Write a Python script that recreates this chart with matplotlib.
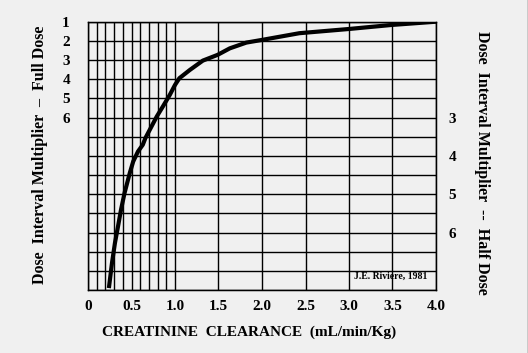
import matplotlib
matplotlib.use('Agg')
import matplotlib.pyplot as plt

plt.rcParams['font.family'] = ['Liberation Serif', 'DejaVu Serif']
plt.rcParams['font.weight'] = 'bold'

# curve (creatinine clearance vs full-dose interval multiplier)
clearance = [0.24, 0.276, 0.31, 0.345, 0.38, 0.42, 0.48, 0.52, 0.575, 0.63, 0.66,
             0.71, 0.79, 0.86, 0.94, 1.0, 1.05, 1.17, 1.32, 1.49, 1.63, 1.82, 2.0,
             2.43, 3.0, 3.49, 4.0]
multiplier = [14.9, 13.58, 12.54, 11.68, 10.8, 9.94, 8.9, 8.29, 7.77, 7.42, 7.07,
              6.64, 5.95, 5.43, 4.82, 4.3, 3.95, 3.52, 3.03, 2.73, 2.39, 2.09, 1.95,
              1.6, 1.38, 1.17, 1.0]

x_labels = ['0', '0.5', '1.0', '1.5', '2.0', '2.5', '3.0', '3.5', '4.0']
x_ticks = [0, 0.5, 1.0, 1.5, 2.0, 2.5, 3.0, 3.5, 4.0]
x_fine = [0.1, 0.2, 0.3, 0.4, 0.6, 0.7, 0.8, 0.9]
full_ticks = [1, 2, 3, 4, 5, 6]
half_ticks = [6, 8, 10, 12]
half_labels = ['3', '4', '5', '6']
bg = '#f0f0f0'

fig = plt.figure(figsize=(5.28, 3.53), dpi=100, facecolor=bg)
ax = fig.add_axes([88 / 528, 1 - 290 / 353, 348 / 528, 268.3 / 353])
ax.set_facecolor(bg)

ax.set_xlim(0, 4.0)
ax.set_ylim(15, 1)
ax.set_xticks(x_ticks)
ax.set_xticklabels(x_labels, fontsize=11, fontweight='bold')
ax.set_xticks(x_fine, minor=True)
ax.set_yticks(range(1, 16), minor=True)
ax.set_yticks(full_ticks)
ax.set_yticklabels([str(t) for t in full_ticks], fontsize=11, fontweight='bold')
ax.tick_params(which='both', length=0)
ax.tick_params(axis='x', pad=7)
ax.tick_params(axis='y', pad=13)
ax.grid(which='both', color='black', lw=1.0)
for s in ax.spines.values():
    s.set_color('black')
    s.set_linewidth(1.0)

ax.plot(clearance, multiplier, color='black', lw=3.0, solid_capstyle='butt', zorder=3)

ax2 = ax.twinx()
ax2.set_ylim(15, 1)
ax2.set_yticks(half_ticks)
ax2.set_yticklabels(half_labels, fontsize=11, fontweight='bold')
ax2.tick_params(length=0, pad=9)

ax.text(3.9, 14.3, 'J.E. Riviere, 1981', fontsize=7, fontweight='bold',
        ha='right', va='center', zorder=4)

fig.text(40 / 528, 1 - 155 / 353, 'Dose  Interval Multiplier  \u2013  Full Dose',
         rotation=90, ha='center', va='center', fontsize=11.5, fontweight='bold')
fig.text(482 / 528, 1 - 163 / 353, 'Dose  Interval Multiplier  --  Half Dose',
         rotation=270, ha='center', va='center', fontsize=11.5, fontweight='bold')
fig.text(249 / 528, 1 - 332 / 353, 'CREATININE  CLEARANCE  (mL/min/Kg)',
         ha='center', va='center', fontsize=11, fontweight='bold')

# thin dark edge on the right like the reference
fig.add_artist(plt.Line2D([527.5 / 528, 527.5 / 528], [0, 1], color='#303030', lw=1.0,
                          transform=fig.transFigure))

fig.savefig('out.png', dpi=100, facecolor=bg)
